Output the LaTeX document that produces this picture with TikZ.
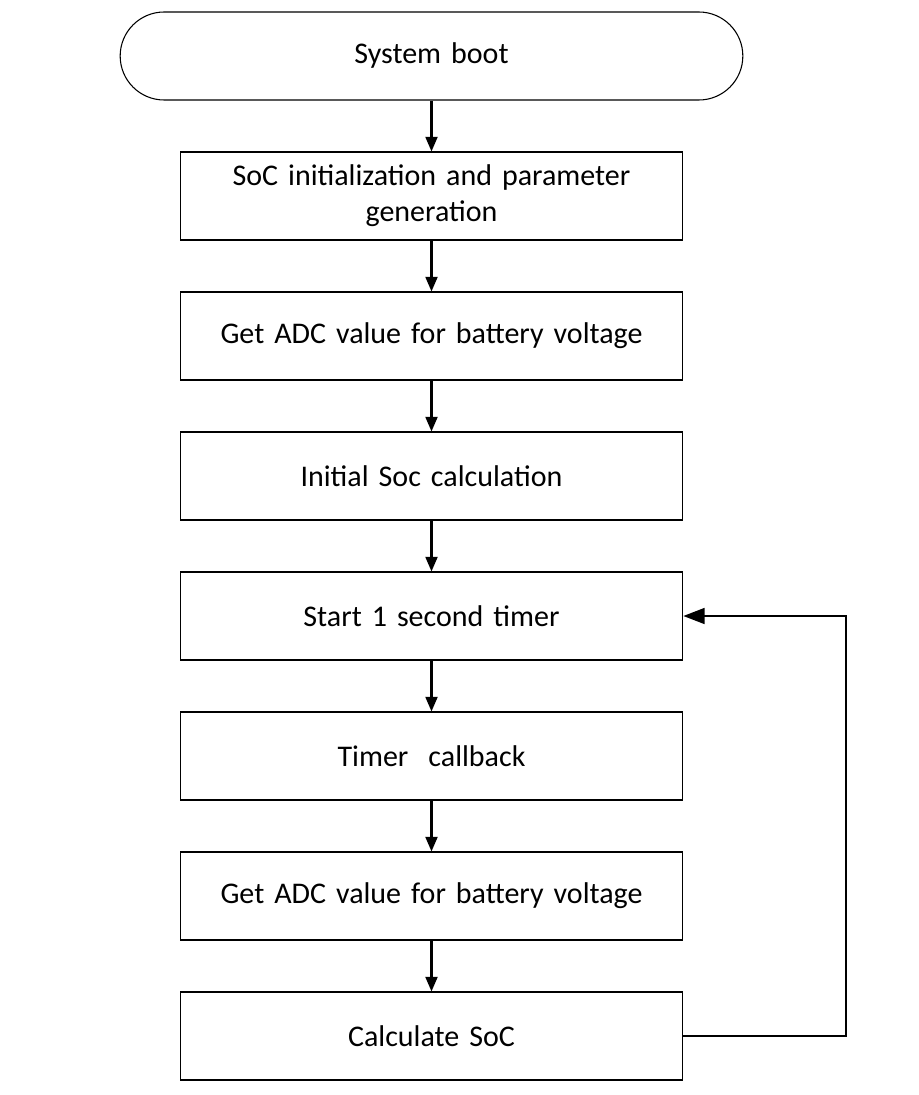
\documentclass[tikz,border=0pt]{standalone}
\usepackage{fontspec}
\setmainfont{Carlito}
\usetikzlibrary{arrows.meta}
\begin{document}
\begin{tikzpicture}[x = 0.75pt, y = -0.75pt,
	box/.style = {draw, line width = 0.8pt, minimum width = 377pt, minimum height = 66pt, align = center, text width = 360pt, font = \fontsize{22.5}{27}\selectfont},
	term/.style = {box, rounded corners = 33pt, minimum width = 467pt},
	flow/.style = {-{Triangle[length = 11pt, width = 9pt]}, line width = 1.6pt},
	back/.style = {-{Triangle[length = 16pt, width = 12pt]}, line width = 1.3pt}]
		\useasboundingbox (0, 0) rectangle (918, 1095);
		\node[term] (boot) at (431.5, 56) {System boot};
		\node[box] (init) at (431.5, 196) {SoC initialization and parameter\\generation};
		\node[box] (adc1) at (431.5, 336) {Get ADC value for battery voltage};
		\node[box] (soc0) at (431.5, 476) {Initial Soc calculation};
		\node[box] (timer) at (431.5, 616) {Start 1 second timer};
		\node[box] (cb) at (431.5, 756) {Timer\ \ callback};
		\node[box] (adc2) at (431.5, 896) {Get ADC value for battery voltage};
		\node[box] (calc) at (431.5, 1036) {Calculate SoC};
		\foreach \a/\b in {boot/init, init/adc1, adc1/soc0, soc0/timer, timer/cb, cb/adc2, adc2/calc}
			\draw[flow] (\a) -- (\b);
		\draw[back] (calc.east) -- (846, 1036) -- (846, 616) -- (timer.east);
	\end{tikzpicture}
\end{document}
